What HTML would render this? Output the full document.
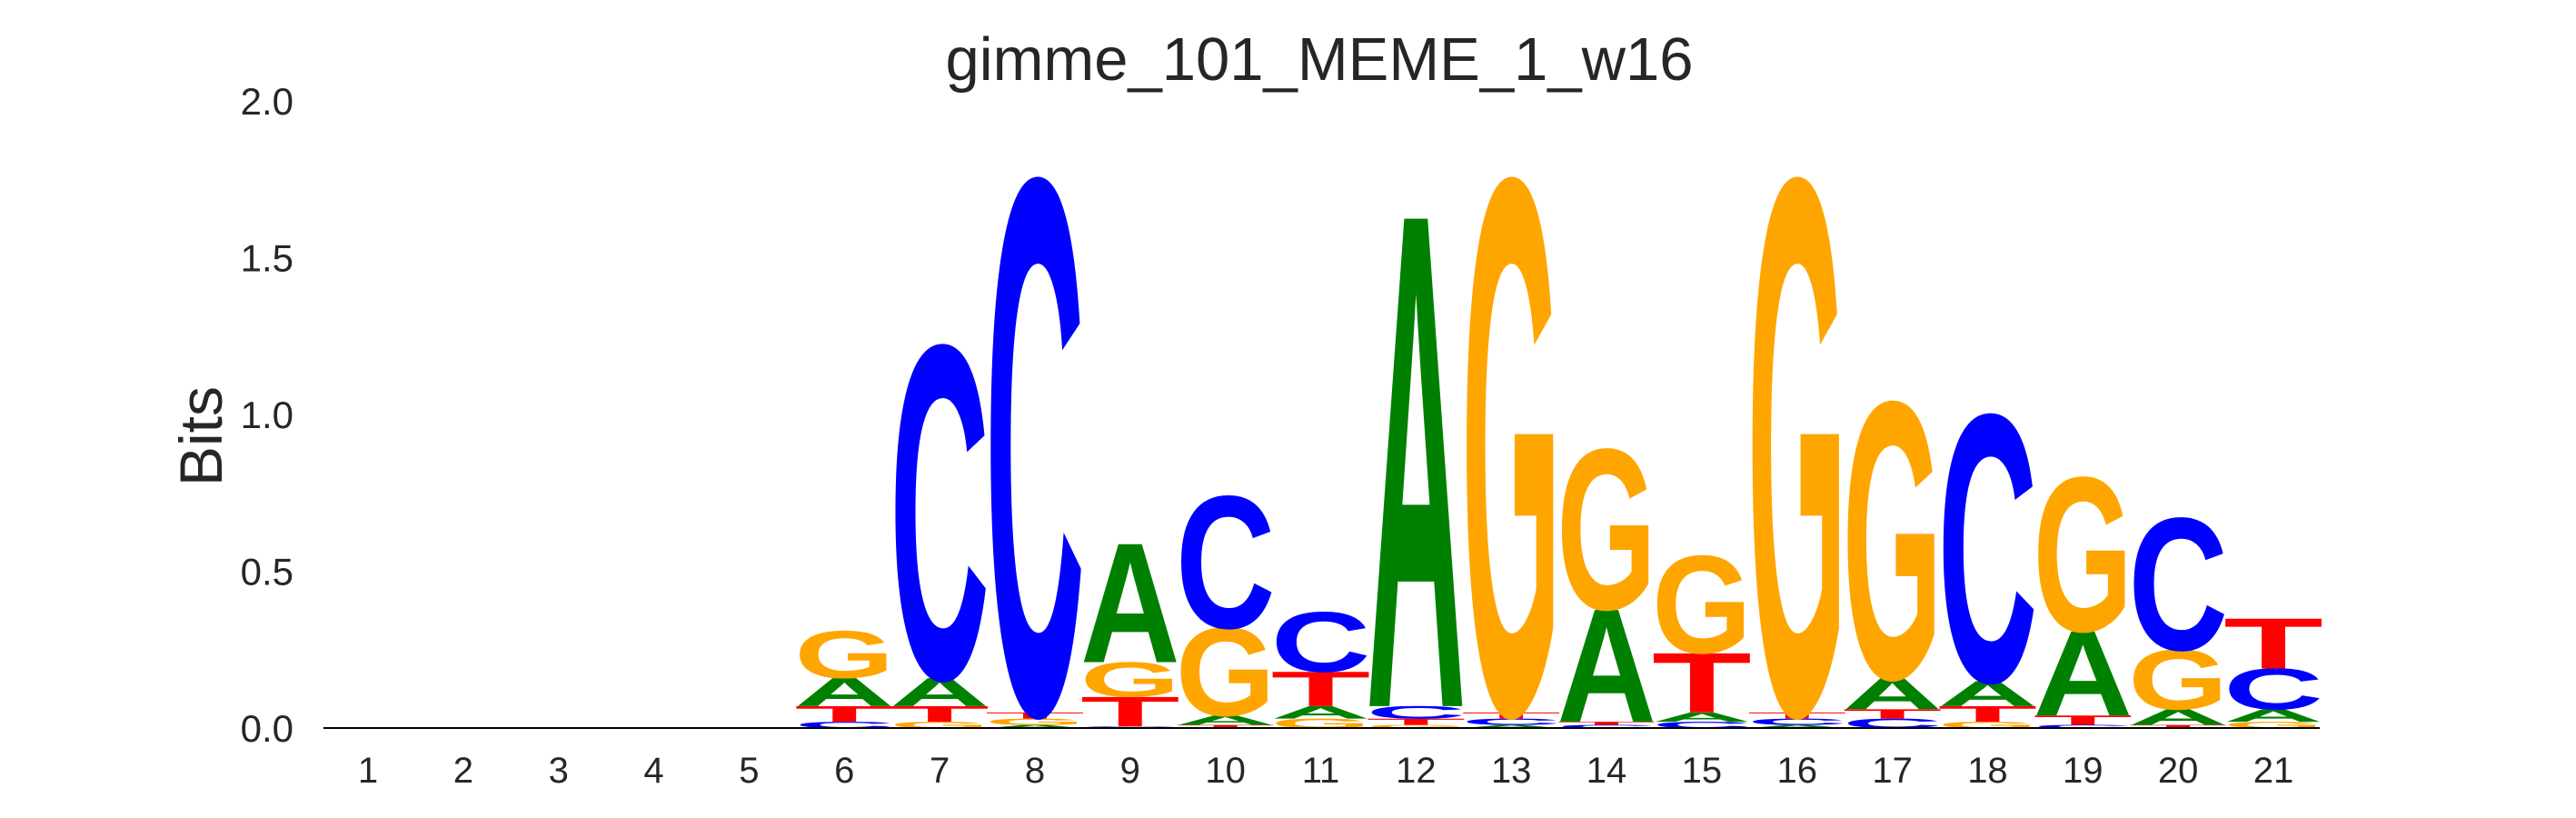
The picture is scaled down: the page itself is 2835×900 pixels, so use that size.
<!DOCTYPE html>
<html><head><meta charset="utf-8">
<style>
html,body{margin:0;padding:0;background:#fff;overflow:hidden;width:2835px;height:900px;}
svg{display:block;font-family:"Liberation Sans",Arial,sans-serif;}
</style></head>
<body>
<svg id="chart" width="2835" height="900" viewBox="0 0 2835 900" xmlns="http://www.w3.org/2000/svg">
  <text x="1452" y="88" font-size="67" fill="#262626" text-anchor="middle">gimme_101_MEME_1_w16</text>
  <text transform="translate(244,480) rotate(-90)" font-size="66" fill="#262626" text-anchor="middle">Bits</text>
  <g id="yticks"></g>
  <g id="xticks"></g>
  <g id="letters"></g>
  <line x1="356" y1="801" x2="2553" y2="801" stroke="#000" stroke-width="2"/>
</svg>
<script>
// Data: each position, letters stacked bottom-to-top with heights in bits
const positions = [1,2,3,4,5,6,7,8,9,10,11,12,13,14,15,16,17,18,19,20,21];
const stackLetters = [
  [],[],[],[],[],
  ["C","T","A","G"],
  ["G","T","A","C"],
  ["A","G","T","C"],
  ["C","T","G","A"],
  ["T","A","G","C"],
  ["G","A","T","C"],
  ["G","T","C","A"],
  ["A","C","T","G"],
  ["C","T","A","G"],
  ["C","A","T","G"],
  ["A","C","T","G"],
  ["C","T","A","G"],
  ["G","T","A","C"],
  ["C","T","A","G"],
  ["T","A","G","C"],
  ["G","A","C","T"]
];
const stackHeights = [
  [],[],[],[],[],
  [0.02,0.05,0.09,0.15],
  [0.02,0.05,0.09,1.06],
  [0.01,0.02,0.02,1.70],
  [0.005,0.095,0.11,0.38],
  [0.01,0.03,0.28,0.42],
  [0.03,0.04,0.11,0.19],
  [0.01,0.02,0.04,1.57],
  [0.01,0.02,0.02,1.70],
  [0.01,0.01,0.36,0.51],
  [0.02,0.03,0.19,0.31],
  [0.01,0.02,0.02,1.70],
  [0.03,0.03,0.10,0.88],
  [0.02,0.05,0.08,0.85],
  [0.01,0.03,0.27,0.49],
  [0.01,0.05,0.19,0.42],
  [0.02,0.04,0.13,0.16]
];
const yTickValues = [0.0,0.5,1.0,1.5,2.0];
const yTickLabels = ["0.0","0.5","1.0","1.5","2.0"];

const NS = "http://www.w3.org/2000/svg";
const Y0 = 801, PX_PER_BIT = 345;
const X1 = 405, DX = 104.85, COLW = 101;
function yScale(v){ return Y0 - v*PX_PER_BIT; }
function xScale(p){ return X1 + (p-1)*DX; }
const colors = {A:"#008000", C:"#0000ff", G:"#ffa500", T:"#ff0000"};
const adv = {A:0.722, C:0.722, G:0.778, T:0.611};

const yg = document.getElementById("yticks");
yTickValues.forEach((v,i)=>{
  const t = document.createElementNS(NS,"text");
  
  
  t.setAttribute("x", 323); t.setAttribute("y", yScale(v)+15);
  t.setAttribute("font-size", 42); t.setAttribute("fill", "#262626");
  t.setAttribute("text-anchor", "end");
  t.textContent = yTickLabels[i];
  yg.appendChild(t);
});
const xg = document.getElementById("xticks");
positions.forEach(p=>{
  const t = document.createElementNS(NS,"text");
  
  
  t.setAttribute("x", xScale(p)); t.setAttribute("y", 861);
  t.setAttribute("font-size", 40); t.setAttribute("fill", "#262626");
  t.setAttribute("text-anchor", "middle");
  t.textContent = String(p);
  xg.appendChild(t);
});
const lg = document.getElementById("letters");
positions.forEach((p,i)=>{
  let base = 0;
  stackLetters[i].forEach((L,j)=>{
    const h = stackHeights[i][j];
    const yb = yScale(base), yt = yScale(base+h);
    const hp = yb - yt;
    const x0 = xScale(p) - COLW/2;
    const sx = COLW/(adv[L]*100*0.92), sy = hp/69.5;
    const t = document.createElementNS(NS,"text");
    
    
    t.setAttribute("font-size", 100);
    t.setAttribute("font-weight", "bold");
    t.setAttribute("fill", colors[L]);
    t.setAttribute("x", -adv[L]*100*0.04);
    t.setAttribute("y", 0);
    t.setAttribute("transform", `translate(${x0},${yb}) scale(${sx},${sy})`);
    t.textContent = L;
    lg.appendChild(t);
    base += h;
  });
});
</script>
</body></html>
